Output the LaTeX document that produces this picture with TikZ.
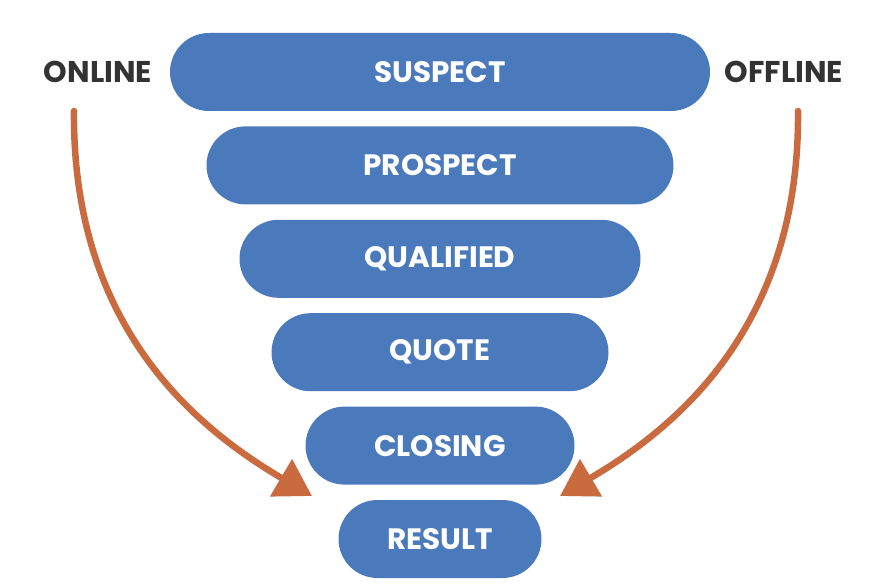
\documentclass[tikz,border=0pt]{standalone}
\usepackage{fontspec}
\setmainfont{Poppins}
\usetikzlibrary{positioning,shapes.misc,arrows.meta}
\definecolor{stageblue}{HTML}{4A7ABC}
\definecolor{flowred}{HTML}{C96B3F}
\definecolor{labelgray}{HTML}{333333}
\tikzstyle{stage} = [rounded rectangle, fill=stageblue, draw=none, text=white, font=\bfseries\fontsize{29.5}{32}\selectfont, minimum height=78pt, inner sep=0pt]
\tikzstyle{channel} = [text=labelgray, font=\bfseries\fontsize{30}{32}\selectfont]
\tikzstyle{line} = [draw=flowred, line width=6.5pt, line cap=round, -{Triangle[length=36pt,width=42pt]}]

\begin{document}
\begin{tikzpicture}[x=1pt, y=1pt, node distance = 93.4pt]
    \useasboundingbox (0,0) rectangle (886,-588);

    % Place nodes
    \node [stage, minimum width=540pt] (suspect) at (440,-72) {SUSPECT};
    \node [stage, minimum width=467pt, below of=suspect] (prospect) {PROSPECT};
    \node [stage, minimum width=401pt, below of=prospect] (qualified) {QUALIFIED};
    \node [stage, minimum width=337pt, below of=qualified] (quote) {QUOTE};
    \node [stage, minimum width=269pt, below of=quote] (closing) {CLOSING};
    \node [stage, minimum width=203pt, below of=closing] (result) {RESULT};
    \node [channel] (online) at (98,-72) {ONLINE};
    \node [channel] (offline) at (784,-72) {OFFLINE};
    \coordinate (online-start) at (74,-111);
    \coordinate (online-end) at (312,-496);
    \coordinate (offline-start) at (798,-111);
    \coordinate (offline-end) at (560,-496);

    % Draw edges
    \path [line] (online-start) .. controls (72,-330) and (200,-430) .. (online-end);
    \path [line] (offline-start) .. controls (800,-330) and (672,-430) .. (offline-end);
\end{tikzpicture}
\end{document}
